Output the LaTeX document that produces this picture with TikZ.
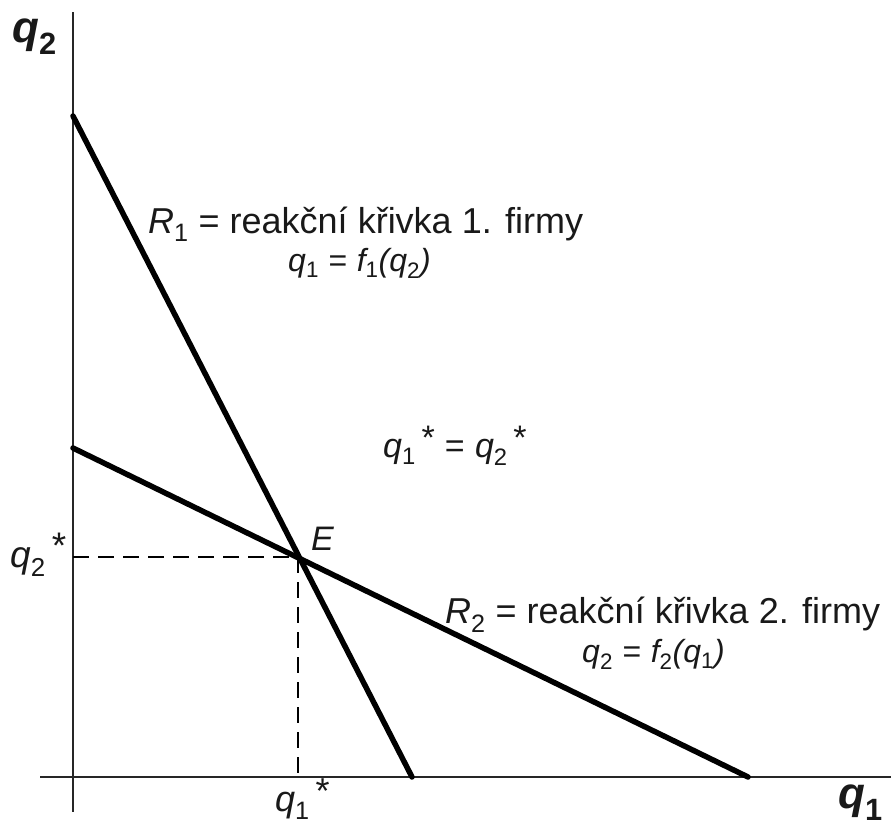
\documentclass[tikz,border=0pt]{standalone}
\usepackage{fontspec}
\setmainfont{Liberation Sans}
\newcommand\qi[1]{{\itshape q}\textsubscript{#1}}
\newcommand\st{\,\raisebox{0.22em}{*}}
\newcommand\eqs{\hspace{0.3em}=\hspace{0.3em}}
\begin{document}
\begin{tikzpicture}[x=1pt,y=-1pt,
  axis/.style={line width=1.8pt,black!85},
  curve/.style={line width=5.5pt,black,line cap=round},
  guide/.style={line width=1.5pt,dash pattern=on 16pt off 9pt},
  lbl/.style={inner sep=0pt,anchor=base west,text=black!90}]
\useasboundingbox (0,0) rectangle (891,827);
% axes
\coordinate (ytop) at (73,12);
\coordinate (ybot) at (73,812);
\coordinate (xl) at (40,777);
\coordinate (xr) at (891,777);
\draw[axis] (ytop) -- (ybot);
\draw[axis] (xl) -- (xr);
% reaction curves
\coordinate (r1a) at (73,116);
\coordinate (r1b) at (412,777);
\coordinate (r2a) at (73,448);
\coordinate (r2b) at (748,777);
\coordinate (E) at (298,557);
\coordinate (Ey) at (73,557);
\coordinate (Ex) at (298,777);
\draw[guide] (Ey) -- (E) -- (Ex);
\draw[curve] (r1a) -- (r1b);
\draw[curve] (r2a) -- (r2b);
% labels
\node[lbl,font=\fontsize{44}{44}\selectfont\bfseries] (ly) at (12,42) {\qi{2}};
\node[lbl,font=\fontsize{44}{44}\selectfont\bfseries] (lx) at (838,808) {\qi{1}};
\node[lbl,font=\fontsize{36}{36}\selectfont] (lr1) at (148,233) {{\itshape R}\textsubscript{1} = reakční křivka 1. firmy};
\node[lbl,font=\fontsize{32}{32}\selectfont] (lf1) at (288,271) {\qi{1}\eqs{\itshape f}\textsubscript{1}{\itshape (q}\textsubscript{2}{\itshape )}};
\node[lbl,font=\fontsize{34}{34}\selectfont] (leq) at (383,457) {\qi{1}\st\eqs\qi{2}\st};
\node[lbl,font=\fontsize{34}{34}\selectfont] (lE) at (311,550) {\itshape E};
\node[lbl,font=\fontsize{36}{36}\selectfont] (lr2) at (445,623) {{\itshape R}\textsubscript{2} = reakční křivka 2. firmy};
\node[lbl,font=\fontsize{32}{32}\selectfont] (lf2) at (582,662) {\qi{2}\eqs{\itshape f}\textsubscript{2}{\itshape (q}\textsubscript{1}{\itshape )}};
\node[lbl,font=\fontsize{37}{37}\selectfont] (lq2s) at (10,567) {\qi{2}\st};
\node[lbl,font=\fontsize{36}{36}\selectfont] (lq1s) at (275,811) {\qi{1}\st};
\end{tikzpicture}
\end{document}
